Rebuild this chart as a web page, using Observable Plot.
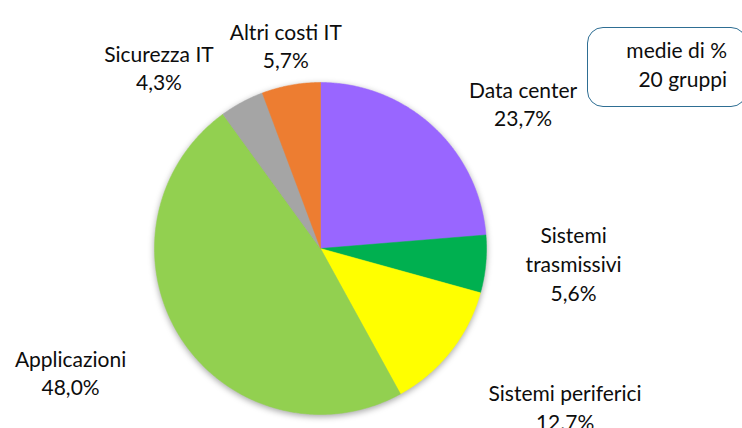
<!DOCTYPE html>
<html>
<head>
<meta charset="utf-8">
<script src="https://cdn.jsdelivr.net/npm/d3@7"></script>
<script src="https://cdn.jsdelivr.net/npm/@observablehq/plot@0.6"></script>
<style>
  html, body { margin: 0; padding: 0; background: #fff; }
  #wrap { position: relative; width: 742px; height: 428px; overflow: hidden; font-family: Lato, "Open Sans", sans-serif; }
  #legend {
    position: absolute; left: 587px; top: 27px; width: 160px; height: 80px;
    box-sizing: border-box; border: 1.5px solid #2E6E93; border-radius: 16px;
  }
  #legend .txt {
    position: absolute; right: 19px; top: 8px; text-align: right;
    font-size: 21px; line-height: 28.5px; color: #0d0d0d;
  }
  #chart svg g[aria-label="line"] { filter: drop-shadow(0px 2px 3px rgba(0,0,0,0.35)); }
</style>
</head>
<body>
<div id="wrap">
  <div id="chart"></div>
  <div id="legend"><div class="txt">medie di %<br>20 gruppi</div></div>
</div>
<script>
// ---- data ----
const categories = ["Data center", "Sistemi trasmissivi", "Sistemi periferici", "Applicazioni", "Sicurezza IT", "Altri costi IT"];
const values = [23.7, 5.6, 12.7, 48.0, 4.3, 5.7];
const valueLabels = ["23,7%", "5,6%", "12.7%", "48,0%", "4,3%", "5,7%"];
const labelNames = ["Data center", "Sistemi\ntrasmissivi", "Sistemi periferici", "Applicazioni", "Sicurezza IT", "Altri costi IT"];
const colors = ["#9966FF", "#00B050", "#FFFF00", "#92D050", "#A5A5A5", "#ED7D31"];

// ---- layout ----
const W = 742, H = 428;
const cx = 320, cy = 248, R = 166;
const labelPad = 40;
const labelNudge = [[63, 6], [48, -5], [83, 30], [-76, 13], [-64, 0], [2, -1]];

const pie = d3.pie().sort(null).value(d => d.value)(categories.map((name, i) => ({name, value: values[i], i})));

const pts = [];
for (const a of pie) {
  const name = a.data.name;
  pts.push({name, x: cx, y: cy});
  const n = Math.max(2, Math.ceil((a.endAngle - a.startAngle) / (Math.PI / 360)));
  for (let k = 0; k <= n; k++) {
    const t = a.startAngle + (a.endAngle - a.startAngle) * k / n;
    pts.push({name, x: cx + R * Math.sin(t), y: cy - R * Math.cos(t)});
  }
  pts.push({name, x: cx, y: cy});
}

const labels = pie.map(a => {
  const i = a.data.i;
  const m = (a.startAngle + a.endAngle) / 2;
  return {
    text: labelNames[i] + "\n" + valueLabels[i],
    x: cx + (R + labelPad) * Math.sin(m) + labelNudge[i][0],
    y: cy - (R + labelPad) * Math.cos(m) + labelNudge[i][1]
  };
});

const chart = Plot.plot({
  width: W, height: H,
  margin: 0,
  style: {fontFamily: "Lato, 'Open Sans', sans-serif", background: "#fff", overflow: "visible"},
  x: {domain: [0, W], range: [0, W], axis: null},
  y: {domain: [0, H], range: [0, H], axis: null},
  color: {domain: categories, range: colors},
  marks: [
    Plot.line(pts, {x: "x", y: "y", z: "name", fill: "name", stroke: "name", strokeWidth: 0.5}),
    Plot.text(labels, {x: "x", y: "y", text: "text", fontSize: 21, lineHeight: 1.36, fill: "#0d0d0d", textAnchor: "middle", lineAnchor: "middle"})
  ]
});
document.getElementById("chart").appendChild(chart);
</script>
</body>
</html>
